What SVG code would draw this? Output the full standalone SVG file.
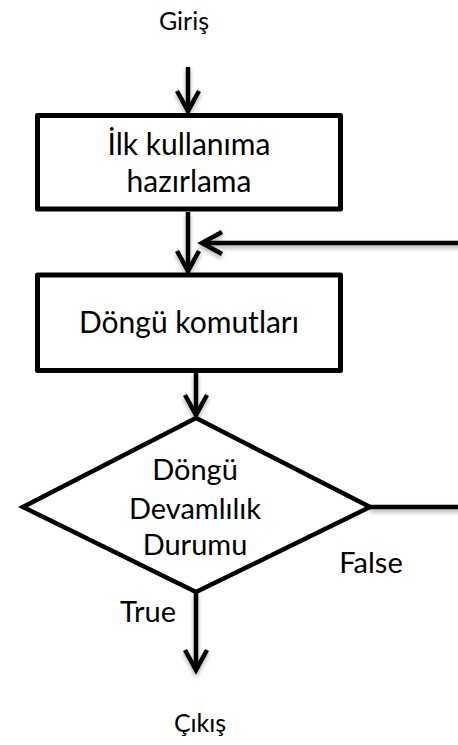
<svg xmlns="http://www.w3.org/2000/svg" width="458" height="745" viewBox="0 0 458 745">
  <defs>
    <style>
      .box { fill: #ffffff; stroke: #000000; stroke-width: 5; stroke-linejoin: round; }
      .dec { fill: #ffffff; stroke: #000000; stroke-width: 4.5; stroke-linejoin: miter; }
      .wire { fill: none; stroke: #000000; stroke-width: 4.5; }
      .t { font-family: "Lato", "Open Sans", sans-serif; fill: #000000; text-anchor: middle; }
      .io { font-size: 25px; }
      .lbl { font-size: 29px; }
      .in { font-size: 30px; }
      .cond { font-size: 29px; }
    </style>
    <marker id="chev" markerUnits="userSpaceOnUse" viewBox="-24 -14 28 28" refX="0" refY="0" markerWidth="28" markerHeight="28" orient="auto" overflow="visible">
      <path d="M-20,-11 L0,0 L-20,11" fill="none" stroke="#000000" stroke-width="4.5" stroke-linejoin="miter"/>
    </marker>
    <filter id="soft" x="-10%" y="-20%" width="130%" height="160%">
      <feDropShadow dx="0" dy="3" stdDeviation="2" flood-color="#000000" flood-opacity="0.3"/>
    </filter>
  </defs>

  <!-- entry / exit labels -->
  <text class="t io" x="184" y="30">Giriş</text>
  <text class="t io" x="200" y="732">Çıkış</text>

  <!-- connectors -->
  <g id="connectors" filter="url(#soft)">
    <path class="wire" d="M188,67 V111" marker-end="url(#chev)"/>
    <path class="wire" d="M188,212 V271" marker-end="url(#chev)"/>
    <path class="wire" d="M196,373 V415" marker-end="url(#chev)"/>
    <path class="wire" d="M196,592 V670" marker-end="url(#chev)"/>
    <path class="wire" d="M370,507 H475 V243 H202" marker-end="url(#chev)"/>
  </g>

  <!-- initialisation step -->
  <g id="init">
    <rect class="box" x="37.5" y="115.5" width="303" height="93.5"/>
    <text class="t in" x="189" y="155">İlk kullanıma</text>
    <text class="t in" x="189" y="192">hazırlama</text>
  </g>

  <!-- loop body -->
  <g id="body">
    <rect class="box" x="37.5" y="275" width="303" height="95.5"/>
    <text class="t in" x="189" y="333">Döngü komutları</text>
  </g>

  <!-- loop condition -->
  <g id="cond">
    <polygon class="dec" points="196,418 370,507 196,592 23,507"/>
    <text class="t cond" x="195" y="480">Döngü</text>
    <text class="t cond" x="195" y="519">Devamlılık</text>
    <text class="t cond" x="195" y="555">Durumu</text>
  </g>

  <!-- branch labels -->
  <text class="t lbl" x="371" y="573">False</text>
  <text class="t lbl" x="148" y="622">True</text>
</svg>
